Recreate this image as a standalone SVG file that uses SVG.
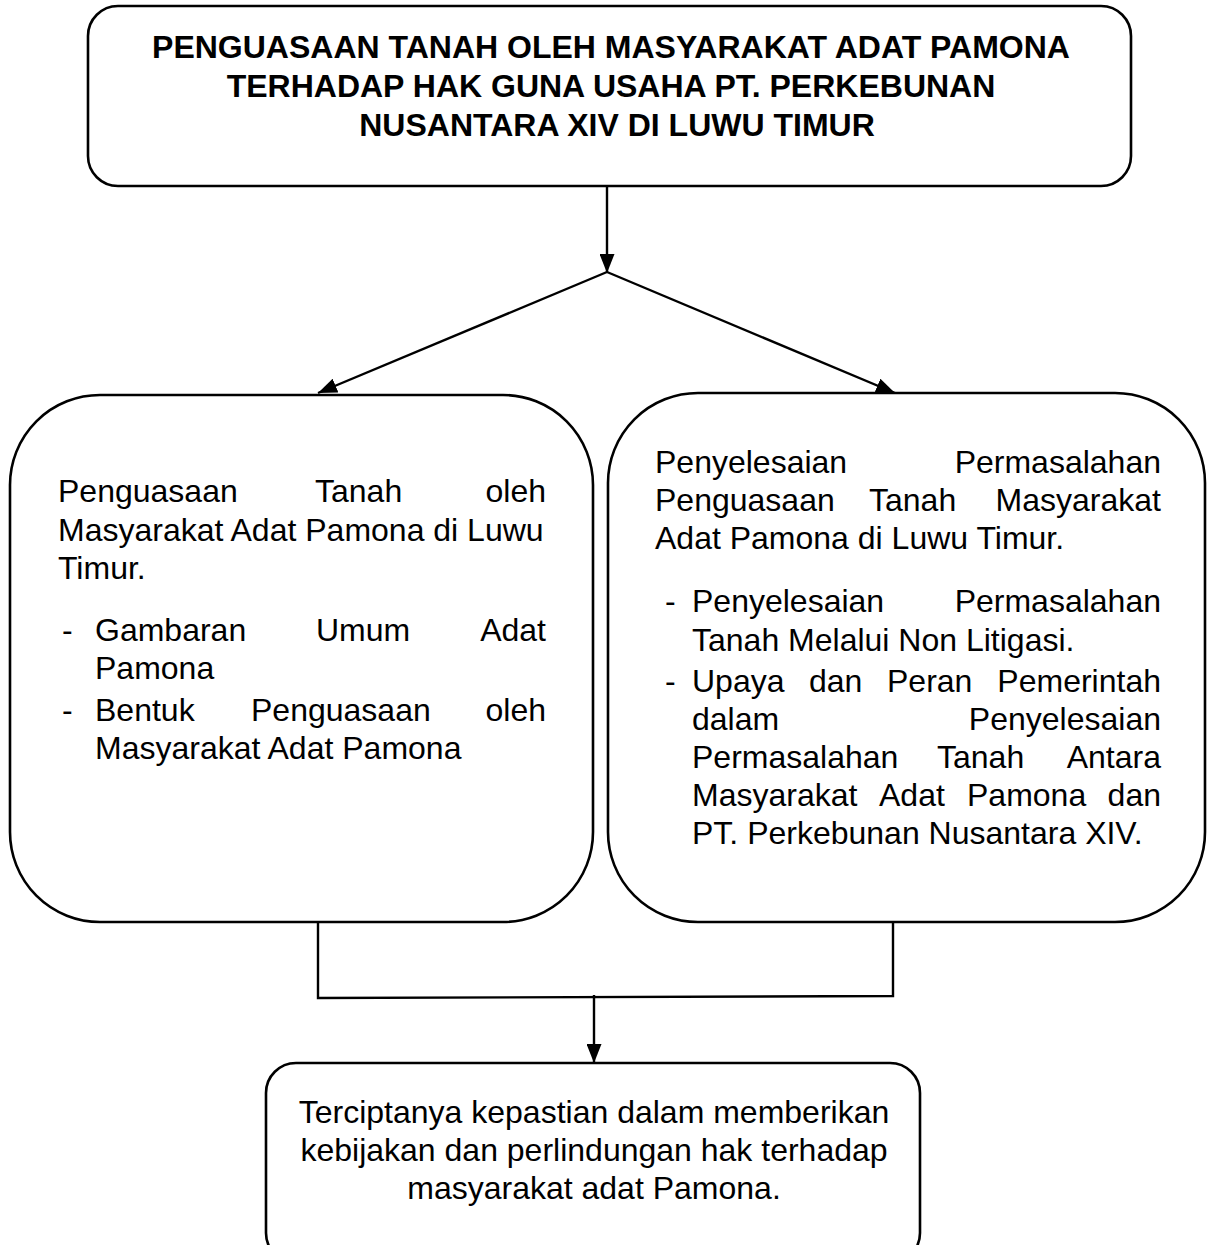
<svg xmlns="http://www.w3.org/2000/svg" width="1214" height="1245" viewBox="0 0 1214 1245">
<style>
.box{fill:#fff;stroke:#000;stroke-width:2.6}
.t{font-family:"Liberation Sans",Arial,sans-serif;font-size:32px;fill:#000}
.b{font-weight:bold}
.c{text-anchor:middle}
.ln{fill:none;stroke:#000;stroke-width:2.4}
</style>
<defs>
<marker id="ah" markerUnits="userSpaceOnUse" markerWidth="19" markerHeight="15" refX="19" refY="7.5" orient="auto">
<path d="M0,0 L19,7.5 L0,15 Z" fill="#000"/>
</marker>
</defs>
<rect width="1214" height="1245" fill="#fff"/>
<g id="connectors">
<line class="ln" x1="607" y1="186" x2="607" y2="273" marker-end="url(#ah)"/>
<line class="ln" x1="607" y1="272" x2="318" y2="393" marker-end="url(#ah)"/>
<line class="ln" x1="607" y1="272" x2="895" y2="393" marker-end="url(#ah)"/>
<polyline class="ln" points="318,922 318,998 893,996 893,922"/>
<line class="ln" x1="594" y1="995" x2="594" y2="1063" marker-end="url(#ah)"/>
</g>
<g id="top">
<rect class="box" x="88" y="6" width="1043" height="180" rx="30"/>
<text class="t b c" x="611" y="58">PENGUASAAN TANAH OLEH MASYARAKAT ADAT PAMONA</text>
<text class="t b c" x="611" y="97">TERHADAP HAK GUNA USAHA PT. PERKEBUNAN</text>
<text class="t b c" x="617" y="136">NUSANTARA XIV DI LUWU TIMUR</text>
</g>
<g id="left">
<rect class="box" x="10" y="395" width="583" height="527" rx="90"/>
<text class="t" y="502"><tspan x="58">Penguasaan</tspan><tspan x="315">Tanah</tspan><tspan x="546" text-anchor="end">oleh</tspan></text>
<text class="t" x="58" y="541">Masyarakat Adat Pamona di Luwu</text>
<text class="t" x="58" y="579">Timur.</text>
<text class="t" x="62" y="641">-</text>
<text class="t" y="641"><tspan x="95">Gambaran</tspan><tspan x="316">Umum</tspan><tspan x="546" text-anchor="end">Adat</tspan></text>
<text class="t" x="95" y="679">Pamona</text>
<text class="t" x="62" y="721">-</text>
<text class="t" y="721"><tspan x="95">Bentuk</tspan><tspan x="251">Penguasaan</tspan><tspan x="546" text-anchor="end">oleh</tspan></text>
<text class="t" x="95" y="759">Masyarakat Adat Pamona</text>
</g>
<g id="right">
<rect class="box" x="608" y="393" width="597" height="529" rx="90"/>
<text class="t" y="473"><tspan x="655">Penyelesaian</tspan><tspan x="1161" text-anchor="end">Permasalahan</tspan></text>
<text class="t" y="511"><tspan x="655">Penguasaan</tspan><tspan x="869">Tanah</tspan><tspan x="1161" text-anchor="end">Masyarakat</tspan></text>
<text class="t" x="655" y="549">Adat Pamona di Luwu Timur.</text>
<text class="t" x="665" y="612">-</text>
<text class="t" y="612"><tspan x="692">Penyelesaian</tspan><tspan x="1161" text-anchor="end">Permasalahan</tspan></text>
<text class="t" x="692" y="651">Tanah Melalui Non Litigasi.</text>
<text class="t" x="665" y="692">-</text>
<text class="t" y="692"><tspan x="692">Upaya</tspan><tspan x="809">dan</tspan><tspan x="887">Peran</tspan><tspan x="1161" text-anchor="end">Pemerintah</tspan></text>
<text class="t" y="730"><tspan x="692">dalam</tspan><tspan x="1161" text-anchor="end">Penyelesaian</tspan></text>
<text class="t" y="768"><tspan x="692">Permasalahan</tspan><tspan x="937">Tanah</tspan><tspan x="1161" text-anchor="end">Antara</tspan></text>
<text class="t" y="806"><tspan x="692">Masyarakat</tspan><tspan x="879">Adat</tspan><tspan x="967">Pamona</tspan><tspan x="1161" text-anchor="end">dan</tspan></text>
<text class="t" x="692" y="844">PT. Perkebunan Nusantara XIV.</text>
</g>
<g id="bottom">
<rect class="box" x="266" y="1063" width="654" height="200" rx="30"/>
<text class="t c" x="594" y="1123">Terciptanya kepastian dalam memberikan</text>
<text class="t c" x="594" y="1161">kebijakan dan perlindungan hak terhadap</text>
<text class="t c" x="594" y="1199">masyarakat adat Pamona.</text>
</g>
</svg>
